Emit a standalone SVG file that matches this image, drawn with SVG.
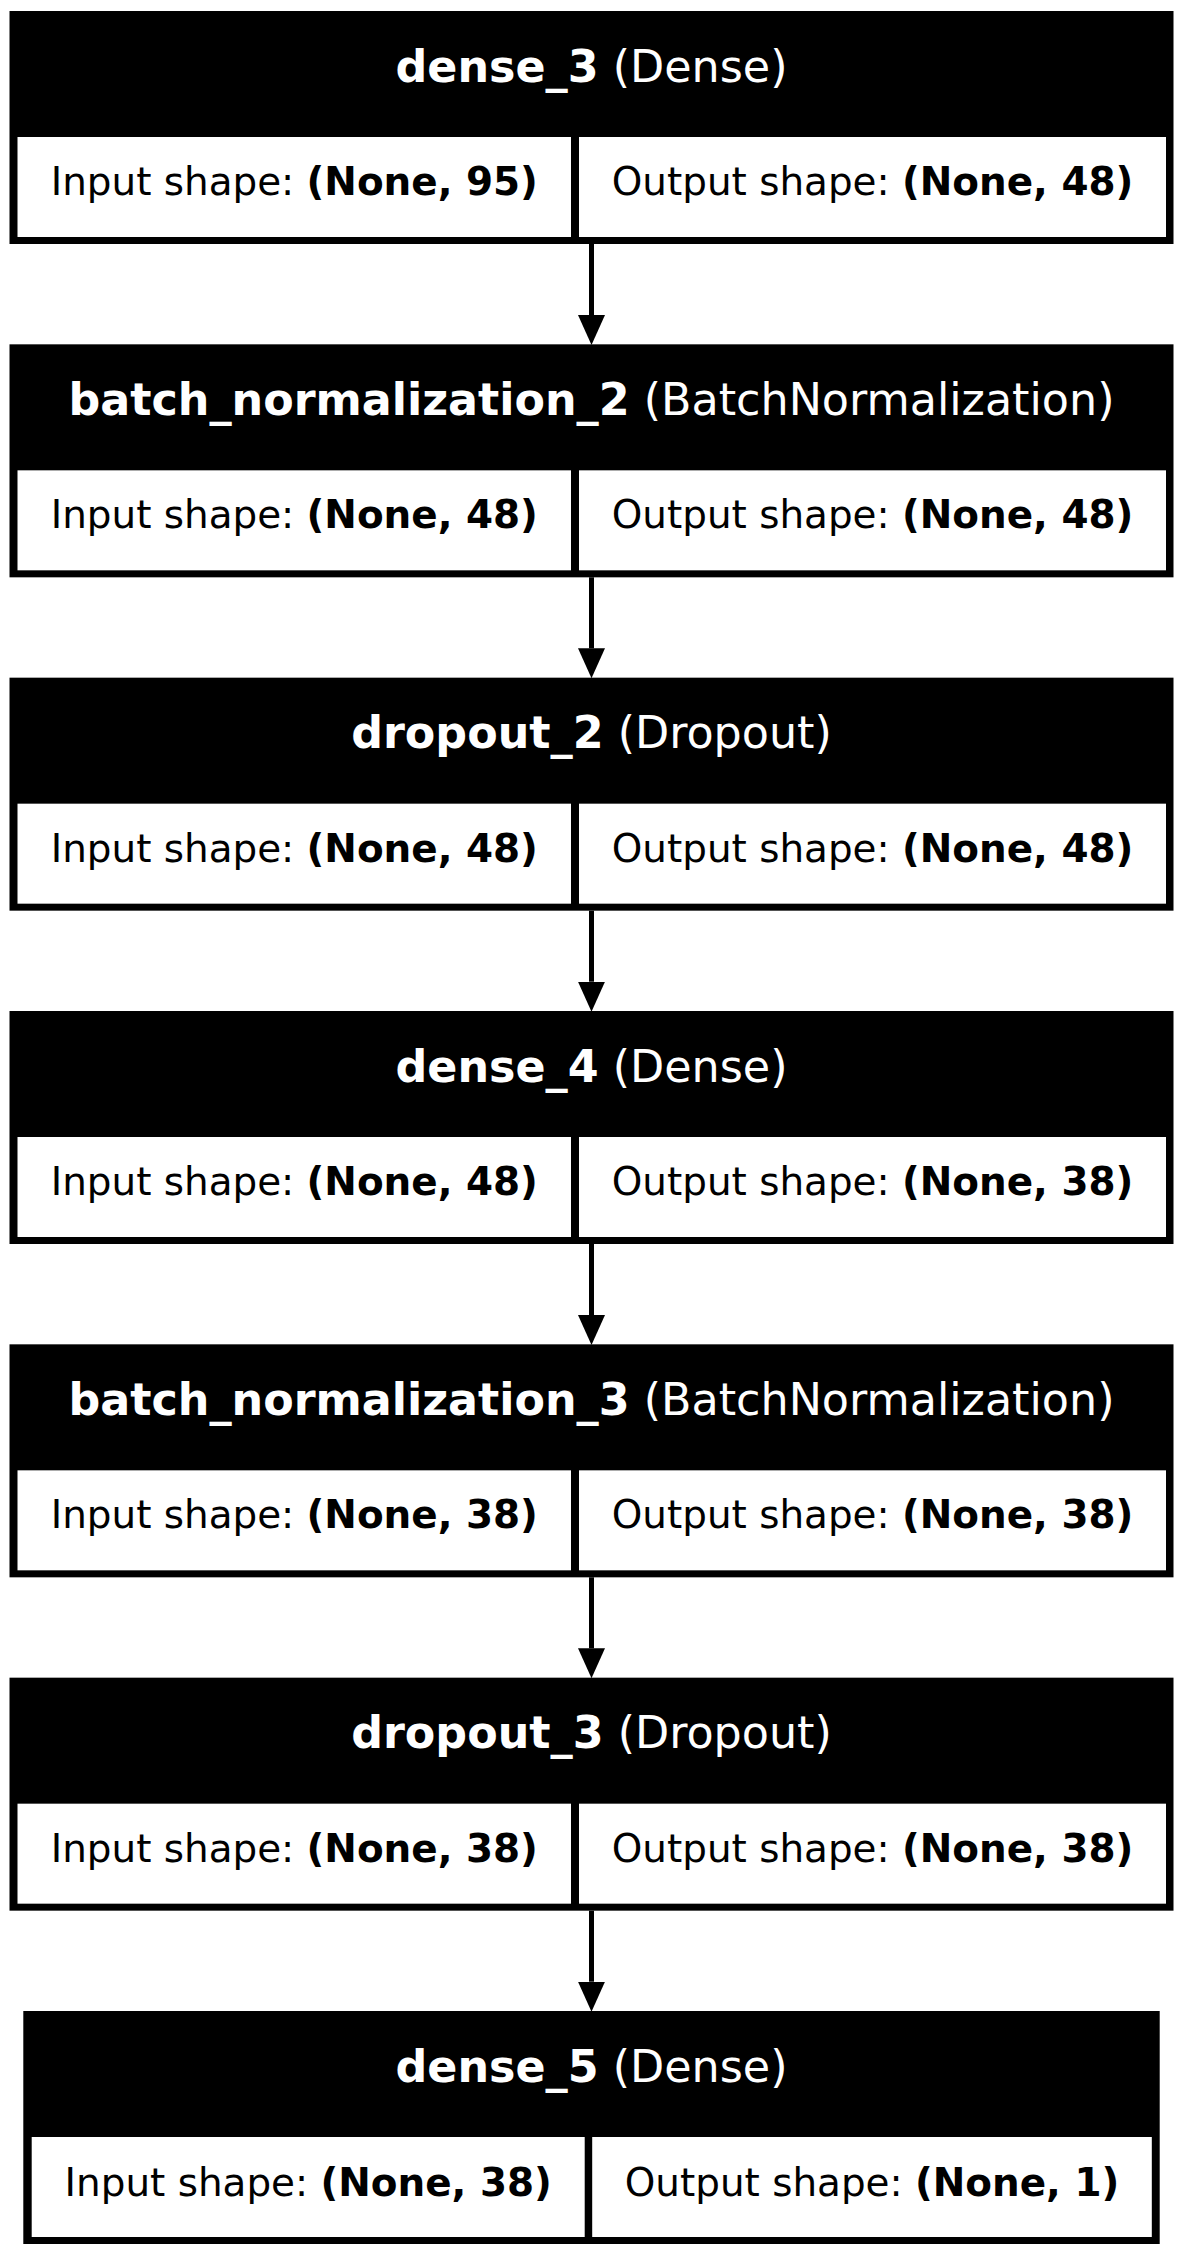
<svg xmlns="http://www.w3.org/2000/svg" width="1183" height="2256" viewBox="0 0 1183 2256">
<style>
.box{fill:#000}
.cell{fill:#fff}
.title{font-family:"DejaVu Sans",sans-serif;font-size:44.4px;fill:#fff;text-anchor:middle}
.txt{font-family:"DejaVu Sans",sans-serif;font-size:38.9px;fill:#000;text-anchor:middle}
.b{font-weight:bold}
.edge{stroke:#000;stroke-width:5;fill:none}
</style>
<defs>
<marker id="ah" markerUnits="userSpaceOnUse" markerWidth="31" markerHeight="28" refX="0" refY="13.5" orient="auto" viewBox="0 0 31 27">
<path d="M0,0 L30,13.5 L0,27 z" fill="#000"/>
</marker>
</defs>
<rect width="1183" height="2256" fill="#fff"/>
<g id="connectors">
<path class="edge" marker-end="url(#ah)" d="M591.5,244 V315"/>
<path class="edge" marker-end="url(#ah)" d="M591.5,577.3 V648.3"/>
<path class="edge" marker-end="url(#ah)" d="M591.5,910.7 V981.7"/>
<path class="edge" marker-end="url(#ah)" d="M591.5,1244 V1315"/>
<path class="edge" marker-end="url(#ah)" d="M591.5,1577.3 V1648.3"/>
<path class="edge" marker-end="url(#ah)" d="M591.5,1910.7 V1981.7"/>
</g>
<g id="dense_3" transform="translate(0,11)">
<rect class="box" x="9.5" y="0" width="1164" height="233"/>
<rect class="cell" x="17.5" y="126" width="553.5" height="100"/>
<rect class="cell" x="579" y="126" width="587" height="100"/>
<text class="title" x="591.5" y="70.7"><tspan class="b">dense_3</tspan> (Dense)</text>
<text class="txt" x="294.3" y="184">Input shape: <tspan class="b">(None, 95)</tspan></text>
<text class="txt" x="872.5" y="184">Output shape: <tspan class="b">(None, 48)</tspan></text>
</g>
<g id="batch_normalization_2" transform="translate(0,344.33)">
<rect class="box" x="9.5" y="0" width="1164" height="233"/>
<rect class="cell" x="17.5" y="126" width="553.5" height="100"/>
<rect class="cell" x="579" y="126" width="587" height="100"/>
<text class="title" x="591.5" y="70.7"><tspan class="b">batch_normalization_2</tspan> (BatchNormalization)</text>
<text class="txt" x="294.3" y="184">Input shape: <tspan class="b">(None, 48)</tspan></text>
<text class="txt" x="872.5" y="184">Output shape: <tspan class="b">(None, 48)</tspan></text>
</g>
<g id="dropout_2" transform="translate(0,677.67)">
<rect class="box" x="9.5" y="0" width="1164" height="233"/>
<rect class="cell" x="17.5" y="126" width="553.5" height="100"/>
<rect class="cell" x="579" y="126" width="587" height="100"/>
<text class="title" x="591.5" y="70.7"><tspan class="b">dropout_2</tspan> (Dropout)</text>
<text class="txt" x="294.3" y="184">Input shape: <tspan class="b">(None, 48)</tspan></text>
<text class="txt" x="872.5" y="184">Output shape: <tspan class="b">(None, 48)</tspan></text>
</g>
<g id="dense_4" transform="translate(0,1011)">
<rect class="box" x="9.5" y="0" width="1164" height="233"/>
<rect class="cell" x="17.5" y="126" width="553.5" height="100"/>
<rect class="cell" x="579" y="126" width="587" height="100"/>
<text class="title" x="591.5" y="70.7"><tspan class="b">dense_4</tspan> (Dense)</text>
<text class="txt" x="294.3" y="184">Input shape: <tspan class="b">(None, 48)</tspan></text>
<text class="txt" x="872.5" y="184">Output shape: <tspan class="b">(None, 38)</tspan></text>
</g>
<g id="batch_normalization_3" transform="translate(0,1344.33)">
<rect class="box" x="9.5" y="0" width="1164" height="233"/>
<rect class="cell" x="17.5" y="126" width="553.5" height="100"/>
<rect class="cell" x="579" y="126" width="587" height="100"/>
<text class="title" x="591.5" y="70.7"><tspan class="b">batch_normalization_3</tspan> (BatchNormalization)</text>
<text class="txt" x="294.3" y="184">Input shape: <tspan class="b">(None, 38)</tspan></text>
<text class="txt" x="872.5" y="184">Output shape: <tspan class="b">(None, 38)</tspan></text>
</g>
<g id="dropout_3" transform="translate(0,1677.67)">
<rect class="box" x="9.5" y="0" width="1164" height="233"/>
<rect class="cell" x="17.5" y="126" width="553.5" height="100"/>
<rect class="cell" x="579" y="126" width="587" height="100"/>
<text class="title" x="591.5" y="70.7"><tspan class="b">dropout_3</tspan> (Dropout)</text>
<text class="txt" x="294.3" y="184">Input shape: <tspan class="b">(None, 38)</tspan></text>
<text class="txt" x="872.5" y="184">Output shape: <tspan class="b">(None, 38)</tspan></text>
</g>
<g id="dense_5" transform="translate(0,2011)">
<rect class="box" x="23.3" y="0" width="1136.4" height="233"/>
<rect class="cell" x="31.7" y="126" width="553" height="100"/>
<rect class="cell" x="592.2" y="126" width="559.6" height="100"/>
<text class="title" x="591.5" y="70.7"><tspan class="b">dense_5</tspan> (Dense)</text>
<text class="txt" x="308.2" y="185">Input shape: <tspan class="b">(None, 38)</tspan></text>
<text class="txt" x="872" y="185">Output shape: <tspan class="b">(None, 1)</tspan></text>
</g>
</svg>
